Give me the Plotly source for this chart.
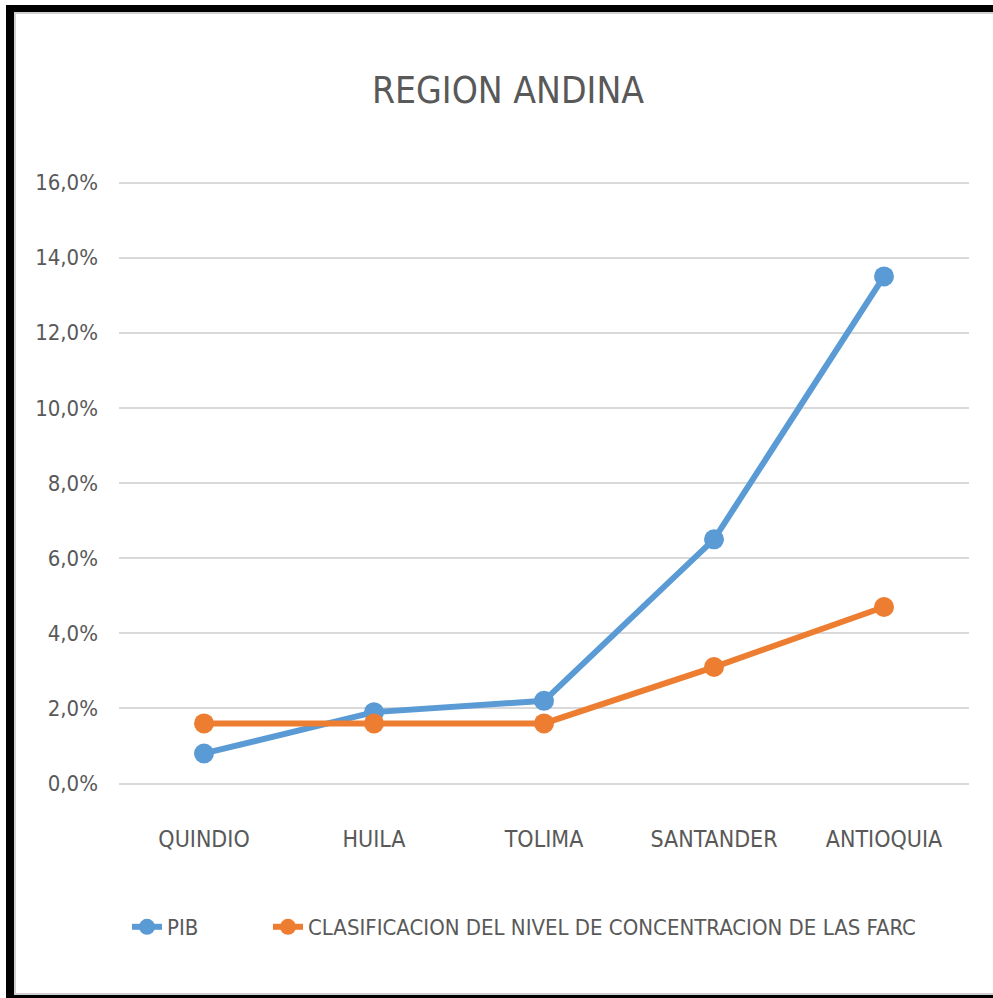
import plotly.graph_objects as go

departamentos = ["QUINDIO", "HUILA", "TOLIMA", "SANTANDER", "ANTIOQUIA"]
pib = [0.008, 0.019, 0.022, 0.065, 0.135]
farc = [0.016, 0.016, 0.016, 0.031, 0.047]
y_ticks = [0, 0.02, 0.04, 0.06, 0.08, 0.10, 0.12, 0.14, 0.16]

FONT = "DejaVu Sans Condensed, Liberation Sans Narrow, Arial Narrow, sans-serif"
GRIS = "#595959"

# plot area in pixels, used to place the frame around the chart
L, R, T, B = 119, 24, 181, 213
W, H = 993, 998
pw, ph = W - L - R, H - T - B


def px_x(p):
    return (p - L) / pw


def px_y(p):
    return (H - B - p) / ph


fig = go.Figure()
fig.add_trace(go.Scatter(x=departamentos, y=pib, name="PIB", mode="lines+markers",
                         line=dict(color="#5B9BD5", width=6),
                         marker=dict(size=20, color="#5B9BD5"), legend="legend"))
fig.add_trace(go.Scatter(x=departamentos, y=farc,
                         name="CLASIFICACION DEL NIVEL DE CONCENTRACION DE LAS FARC",
                         mode="lines+markers",
                         line=dict(color="#ED7D31", width=6),
                         marker=dict(size=20, color="#ED7D31"), legend="legend2"))

# black frame with a white inner panel
fig.add_shape(type="rect", xref="paper", yref="paper", layer="below",
              x0=px_x(6), x1=px_x(1010), y0=px_y(1010), y1=px_y(5),
              fillcolor="black", line=dict(width=0))
fig.add_shape(type="rect", xref="paper", yref="paper", layer="below",
              x0=px_x(15), x1=px_x(1005), y0=px_y(994), y1=px_y(13),
              fillcolor="white", line=dict(color="#d0d0d0", width=2))

leg = dict(orientation="h", xanchor="left", y=px_y(927), yanchor="middle",
           font=dict(size=22, color=GRIS), bgcolor="rgba(0,0,0,0)")

fig.update_layout(
    width=W, height=H,
    margin=dict(l=L, r=R, t=T, b=B),
    paper_bgcolor="white", plot_bgcolor="white",
    separators=",.",
    font=dict(family=FONT, color=GRIS, size=22),
    title=dict(text="REGION ANDINA", x=508 / W, xanchor="center",
               y=1 - 90 / H, yanchor="middle",
               font=dict(size=37, color=GRIS, family=FONT)),
    showlegend=True,
    legend=dict(leg, x=px_x(127)),
    legend2=dict(leg, x=px_x(268)),
)
fig.update_yaxes(range=[-0.0004, 0.1604], tickvals=y_ticks, tickformat=".1%",
                 showgrid=True, gridcolor="#d9d9d9", gridwidth=1.5,
                 zeroline=False, showline=False, ticklabelstandoff=20,
                 tickfont=dict(size=22, color=GRIS))
fig.update_xaxes(type="category", range=[-0.5, 4.5], showgrid=False,
                 zeroline=False, showline=False,
                 ticklabelstandoff=38, tickfont=dict(size=23, color=GRIS))

fig.write_html("out.html", config={"displayModeBar": False},
               post_script="document.body.style.margin='0';")
